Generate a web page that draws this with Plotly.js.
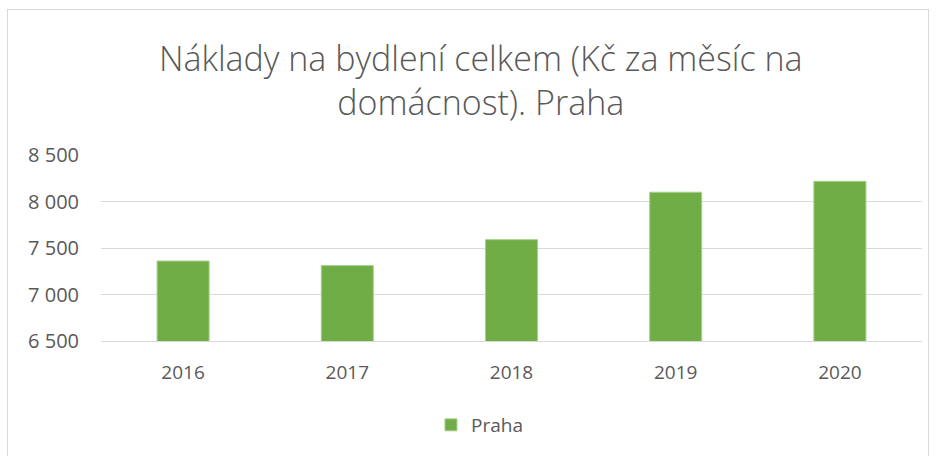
<!DOCTYPE html>
<html>
<head>
<meta charset="utf-8">
<script src="https://cdn.plot.ly/plotly-3.0.1.min.js"></script>
<style>
  html, body { margin: 0; padding: 0; background: #ffffff; }
  #wrap { position: relative; width: 939px; height: 456px; overflow: hidden; }
  #frame { position: absolute; left: 7px; top: 9px; width: 922px; height: 460px; border: 1px solid #d9d9d9; box-sizing: border-box; pointer-events: none; }
  #chart { position: absolute; left: 0; top: 0; width: 939px; height: 456px; }
</style>
</head>
<body>
<div id="wrap">
  <div id="chart"></div>
  <div id="frame"></div>
</div>
<script>
const years = ["2016", "2017", "2018", "2019", "2020"];
const praha = [7360, 7311, 7590, 8100, 8217];
const yTicks = [6500, 7000, 7500, 8000, 8500];
const yTickText = ["6 500", "7 000", "7 500", "8 000", "8 500"];
const seriesName = "Praha";
const chartTitle = "Náklady na bydlení celkem (Kč za měsíc na<br>domácnost). Praha";

const font = "Open Sans, Noto Sans, DejaVu Sans, sans-serif";
const textColor = "#595959";

const trace = {
  type: "bar",
  x: years,
  y: praha,
  name: seriesName,
  marker: { color: "#70ad47", line: { color: "#a9d18e", width: 1 } },
  hoverinfo: "x+y"
};

const layout = {
  width: 939,
  height: 456,
  paper_bgcolor: "#ffffff",
  plot_bgcolor: "#ffffff",
  margin: { l: 101, r: 17, t: 155, b: 115 },
  title: {
    text: chartTitle,
    font: { family: font, size: 34, color: textColor, weight: 300 },
    x: 0.512, xanchor: "center",
    y: 0.845, yanchor: "middle",
    yref: "container",
    automargin: false
  },
  bargap: 0.683,
  xaxis: {
    type: "category",
    showgrid: false,
    showline: true,
    linecolor: "#d9d9d9",
    linewidth: 1,
    ticks: "",
    ticklabelstandoff: 14,
    tickfont: { family: font, size: 19, color: textColor }
  },
  yaxis: {
    range: [6500, 8500],
    tickvals: yTicks,
    ticktext: yTickText,
    showgrid: true,
    gridcolor: "#d9d9d9",
    gridwidth: 1,
    zeroline: false,
    showline: false,
    ticks: "",
    ticklabelstandoff: 21,
    tickfont: { family: font, size: 20, color: textColor }
  },
  showlegend: true,
  legend: {
    orientation: "h",
    x: 0.461, xanchor: "center", xref: "paper",
    y: 0.068, yanchor: "middle", yref: "container",
    font: { family: font, size: 19, color: textColor },
    itemwidth: 30
  }
};

Plotly.newPlot("chart", [trace], layout, { displayModeBar: false, staticPlot: true });
</script>
</body>
</html>
